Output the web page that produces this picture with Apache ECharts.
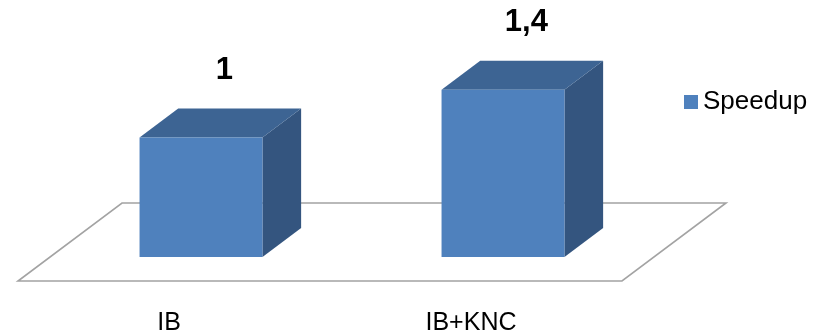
<!DOCTYPE html>
<html>
<head>
<meta charset="utf-8">
<script src="https://cdn.jsdelivr.net/npm/echarts@6/dist/echarts.min.js"></script>
<style>
html, body { margin: 0; padding: 0; background: #fff; }
#main { width: 827px; height: 336px; }
</style>
</head>
<body>
<div id="main"></div>
<script>
var categories = ["IB", "IB+KNC"];
var speedup = [1, 1.4];
var valueLabels = ["1", "1,4"];

var chart = echarts.init(document.getElementById("main"));

// fake 3D: floor depth in px, bars sit between these fractions of it
var floorDepth = [104, -78];
var barFront = 24 / 78;
var barBack = 53 / 78;

function renderFloor(params, api) {
  var cs = params.coordSys;
  var x0 = cs.x, x1 = cs.x + cs.width, y = cs.y + cs.height;
  return {
    type: "polygon",
    silent: true,
    shape: {
      points: [
        [x0, y], [x1, y],
        [x1 + floorDepth[0], y + floorDepth[1]],
        [x0 + floorDepth[0], y + floorDepth[1]]
      ]
    },
    style: { fill: "#fff", stroke: "#a3a3a3", lineWidth: 1.6 }
  };
}

function renderBox(params, api) {
  var i = api.value(0);
  var base = api.coord([i, 0]);
  var top = api.coord([i, api.value(1)]);
  var w = api.size([1, 0])[0] * 0.407;
  var fx = floorDepth[0] * barFront, fy = floorDepth[1] * barFront;
  var dx = floorDepth[0] * (barBack - barFront);
  var dy = floorDepth[1] * (barBack - barFront);
  var l = base[0] - w / 2 + fx, r = l + w;
  var b = base[1] + fy, t = top[1] + fy;
  return {
    type: "group",
    children: [
      {
        type: "polygon",
        shape: { points: [[r, t], [r + dx, t + dy], [r + dx, b + dy], [r, b]] },
        style: { fill: "#34557f" }
      },
      {
        type: "polygon",
        shape: { points: [[l, t], [r, t], [r + dx, t + dy], [l + dx, t + dy]] },
        style: { fill: "#3d6493" }
      },
      {
        type: "rect",
        shape: { x: l, y: t, width: w, height: b - t },
        style: { fill: "#4f81bd" }
      },
      {
        type: "text",
        style: {
          x: (l + r + dx) / 2 + 4,
          y: t + dy - 38,
          text: valueLabels[i],
          fill: "#000",
          font: "bold 31px 'Liberation Sans', Arial, sans-serif",
          align: "center",
          verticalAlign: "middle"
        }
      }
    ]
  };
}

chart.setOption({
  animation: false,
  grid: { left: 18, right: 205, top: 42, bottom: 54 },
  legend: {
    data: ["Speedup"],
    left: 684,
    top: 89,
    padding: 0,
    icon: "rect",
    itemWidth: 14,
    itemHeight: 14,
    itemGap: 8,
    textStyle: { fontSize: 26, color: "#000", fontFamily: "'Liberation Sans', Arial, sans-serif" }
  },
  xAxis: {
    type: "category",
    data: categories,
    axisLine: { show: false },
    axisTick: { show: false },
    splitLine: { show: false },
    axisLabel: {
      margin: 30,
      fontSize: 25,
      color: "#000",
      fontFamily: "'Liberation Sans', Arial, sans-serif"
    }
  },
  yAxis: { type: "value", min: 0, max: 2, show: false },
  series: [
    {
      type: "custom",
      name: "floor",
      z: 1,
      renderItem: renderFloor,
      data: [[0, 0]]
    },
    {
      type: "custom",
      name: "Speedup",
      z: 2,
      itemStyle: { color: "#4f81bd" },
      renderItem: renderBox,
      encode: { x: 0, y: 1 },
      data: speedup.map(function (v, i) { return [i, v]; })
    }
  ]
});
</script>
</body>
</html>
